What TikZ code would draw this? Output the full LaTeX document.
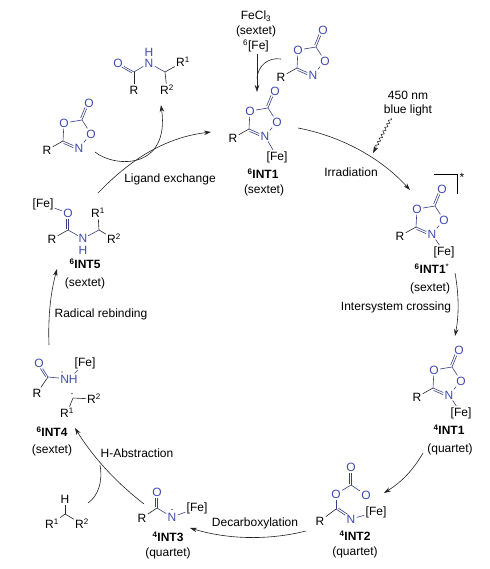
\documentclass[tikz,border=0pt]{standalone}
\usepackage{fontspec}
\setmainfont{Liberation Sans}
\usetikzlibrary{arrows.meta,decorations.pathmorphing,calc}
\definecolor{het}{HTML}{3F4AAE}
\definecolor{bondh}{HTML}{3A4088}
\definecolor{arr}{HTML}{222222}
\newcommand\dblbond[3]{%
  \draw[hbond] (#1) -- (#2);
  \draw[hbond,shorten <=1.5pt,shorten >=5.5pt] ($(#1)!#3!90:(#2)$) -- ($(#2)!#3!-90:(#1)$);
}
\tikzset{
  x=1pt,y=-1pt,
  lab/.style={font=\fontsize{12}{14}\selectfont,inner sep=0pt,text=black},
  atom/.style={font=\fontsize{12}{14}\selectfont,inner sep=1.2pt,text=black},
  hatom/.style={atom,text=het},
  vtx/.style={inner sep=0pt,minimum size=0pt},
  bond/.style={line width=0.6pt,draw=black!85},
  hbond/.style={line width=0.6pt,draw=bondh},
  cyc/.style={line width=0.6pt,draw=arr,-{Stealth[length=7pt,width=4.5pt]}},
  cycplain/.style={line width=0.6pt,draw=arr},
  rad/.style={circle,fill=black,inner sep=0pt,minimum size=1.4pt},
  oxa/.pic={
    \node[vtx] (-C1) at (0,0) {};
    \node[vtx] (-C2) at (19,-21) {};
    \node[hatom] (-O1) at (1,-18) {O};
    \node[hatom] (-O2) at (28,-7) {O};
    \node[hatom] (-N) at (16,7) {N};
    \node[hatom] (-O3) at (26,-38) {O};
    \node[atom] (-R) at (-16,9) {R};
    \draw[hbond] (-C1) -- (-O1);
    \draw[hbond] (-O1) -- (-C2);
    \draw[hbond] (-C2) -- (-O2);
    \draw[hbond] (-O2) -- (-N);
    \dblbond{-C1}{-N}{-2pt}
    \dblbond{-C2}{-O3}{2pt}
    \draw[bond] (-C1) -- (-R);
  }
}
\begin{document}
\begin{tikzpicture}
\useasboundingbox (0,0) rectangle (489,569);

% top reagent
\node[lab] (fecl) at (256,16) {FeCl\textsubscript{3}};
\node[lab] (sxt0) at (256,31) {(sextet)};
\node[lab] (fe0) at (256,46) {\textsuperscript{6}[Fe]};
\pic (t) at (297,68) {oxa};
\coordinate (a0s) at (257,54);
\coordinate (a0e) at (257,92);
\coordinate (c0s) at (281,59);
\coordinate (c0e) at (257,78);
\draw[cyc] (a0s) -- (a0e);
\draw[cycplain] (c0s) .. controls (268,57) and (258,66) .. (c0e);

% 6INT1
\pic (a) at (249,129) {oxa};
\node[atom] (afe) at (277,157) {[Fe]};
\draw[hbond] (a-N) -- (afe);
\node[lab] (al) at (263,174) {\textbf{\textsuperscript{6}INT1}};
\node[lab] (as) at (264,190) {(sextet)};

% irradiation
\coordinate (irs) at (298,128);
\coordinate (ire) at (410,190);
\draw[cyc] (irs) .. controls (340,136) and (380,157) .. (ire);
\node[lab] (irl) at (351,172) {Irradiation};
\node[lab] (nm) at (408,95) {450 nm};
\node[lab] (bl) at (408,110) {blue light};
\coordinate (ws) at (391,118);
\coordinate (we) at (373,153);
\draw[line width=0.55pt,draw=arr,-{Stealth[length=7pt,width=4.5pt]},decorate,decoration={snake,amplitude=1.3pt,segment length=4pt,pre length=0pt,post length=6pt}] (ws) -- (we);

% 6INT1*
\pic (b) at (416,227) {oxa};
\node[atom] (bfe) at (444,252) {[Fe]};
\draw[hbond] (b-N) -- (bfe);
\node[lab] (bl1) at (432,269) {\textbf{\textsuperscript{6}INT1}\textsuperscript{*}};
\node[lab] (bs) at (430,288) {(sextet)};
\coordinate (br1) at (434,174);
\coordinate (br2) at (457,174);
\coordinate (br3) at (457,194);
\draw[line width=0.6pt,draw=black] (br1) -- (br2) -- (br3);
\node[lab] (st) at (462,177) {*};
\node[lab] (isc) at (396,307) {Intersystem crossing};
\coordinate (iss) at (455,273);
\coordinate (ise) at (455,336);
\draw[cyc] (iss) .. controls (459,295) and (459,315) .. (ise);

% 4INT1
\pic (c) at (433,388) {oxa};
\node[atom] (cfe) at (461,413) {[Fe]};
\draw[hbond] (c-N) -- (cfe);
\node[lab] (cl) at (449,430) {\textbf{\textsuperscript{4}INT1}};
\node[lab] (cs) at (450,449) {(quartet)};
\coordinate (cds) at (423,453);
\coordinate (cde) at (384,493);
\draw[cyc] (cds) .. controls (412,472) and (400,483) .. (cde);

% 4INT2
\node[vtx] (d-C1) at (336,509) {};
\node[vtx] (d-C2) at (351,485) {};
\node[hatom] (d-O3) at (351,467) {O};
\node[hatom] (d-O1) at (336,494) {O};
\node[hatom] (d-O2) at (366,495) {O};
\node[hatom] (d-N) at (351,519) {N};
\node[atom] (d-R) at (320,521) {R};
\node[atom] (d-fe) at (376,512) {[Fe]};
\dblbond{d-C2}{d-O3}{1.8pt}
\draw[hbond] (d-C2) -- (d-O1);
\draw[hbond] (d-C2) -- (d-O2);
\draw[hbond] (d-C1) -- (d-O1);
\dblbond{d-C1}{d-N}{2pt}
\draw[bond] (d-C1) -- (d-R);
\draw[hbond] (d-N) -- (d-fe);
\node[lab] (dl) at (355,536) {\textbf{\textsuperscript{4}INT2}};
\node[lab] (ds) at (355,552) {(quartet)};
\node[lab] (dec) at (255,523) {Decarboxylation};
\coordinate (des) at (306,531);
\coordinate (dee) at (190,528);
\draw[cyc] (des) .. controls (270,540) and (230,540) .. (dee);

% 4INT3
\node[vtx] (e-C) at (157,508) {};
\node[hatom] (e-O) at (157,492) {O};
\node[atom] (e-R) at (142,518) {R};
\node[hatom] (e-N) at (172,517) {N};
\node[rad] (e-d) at (172,509.5) {};
\node[atom] (e-fe) at (197,508) {[Fe]};
\dblbond{e-C}{e-O}{1.8pt}
\draw[bond] (e-C) -- (e-R);
\draw[hbond] (e-C) -- (e-N);
\draw[hbond] (e-N) -- (e-fe);
\node[lab] (el) at (168,537) {\textbf{\textsuperscript{4}INT3}};
\node[lab] (es) at (168,553) {(quartet)};

% H abstraction
\coordinate (has) at (144,504);
\coordinate (hae) at (75,428);
\coordinate (hjn) at (100,465);
\draw[cyc] (has) .. controls (122,487) and (96,462) .. (hae);
\node[lab] (hal) at (137,453) {H-Abstraction};
\node[vtx] (f-C) at (65,514) {};
\node[atom] (f-H) at (65,499) {H};
\node[atom] (f-R1) at (52,524) {R\textsuperscript{1}};
\node[atom] (f-R2) at (82,524) {R\textsuperscript{2}};
\draw[bond] (f-C) -- (f-H);
\draw[bond] (f-C) -- (f-R1);
\draw[bond] (f-C) -- (f-R2);
\coordinate (fcs) at (88,503);
\draw[cycplain] (fcs) .. controls (98,496) and (103,482) .. (hjn);

% 6INT4
\node[vtx] (g-C) at (48,377) {};
\node[hatom] (g-O) at (39,363) {O};
\node[atom] (g-R) at (37,393) {R};
\node[hatom] (g-N) at (69,379) {NH};
\node[rad] (g-d) at (62,372) {};
\node[atom] (g-fe) at (85,363) {[Fe]};
\dblbond{g-C}{g-O}{1.8pt}
\draw[bond] (g-C) -- (g-R);
\draw[hbond] (g-C) -- (g-N);
\draw[hbond] (g-N) -- (g-fe);
\node[vtx] (g-CR) at (73,398) {};
\node[rad] (g-d2) at (72,393.5) {};
\node[atom] (g-R2) at (94,399) {R\textsuperscript{2}};
\node[atom] (g-R1) at (67,413) {R\textsuperscript{1}};
\draw[bond] (g-CR) -- (g-R2);
\draw[bond] (g-CR) -- (g-R1);
\node[lab] (gl) at (52,432) {\textbf{\textsuperscript{6}INT4}};
\node[lab] (gs) at (52,450) {(sextet)};

% rebinding
\coordinate (rbs) at (49,345);
\coordinate (rbe) at (57,269);
\draw[cyc] (rbs) .. controls (48,320) and (50,295) .. (rbe);
\node[lab] (rbl) at (101,314) {Radical rebinding};

% 6INT5
\node[atom] (h-fe) at (43,204) {[Fe]};
\node[hatom] (h-O) at (68,213) {O};
\node[vtx] (h-C) at (68,230) {};
\node[atom] (h-R) at (52,239) {R};
\node[hatom,inner sep=0.6pt] (h-N) at (83,238.5) {N};
\node[hatom,inner sep=0pt] (h-H) at (83,250) {H};
\node[vtx] (h-CH) at (99,230) {};
\node[atom] (h-R1) at (98,213) {R\textsuperscript{1}};
\node[atom] (h-R2) at (114,239) {R\textsuperscript{2}};
\draw[hbond] (h-fe) -- (h-O);
\dblbond{h-C}{h-O}{1.8pt}
\draw[bond] (h-C) -- (h-R);
\draw[hbond] (h-C) -- (h-N);
\draw[hbond] (h-N) -- (h-CH);
\draw[bond] (h-CH) -- (h-R1);
\draw[bond] (h-CH) -- (h-R2);
\node[lab] (hl) at (85,264) {\textbf{\textsuperscript{6}INT5}};
\node[lab] (hs) at (85,283) {(sextet)};

% ligand exchange
\coordinate (les) at (98,193);
\coordinate (lee) at (211,132);
\draw[cyc] (les) .. controls (125,165) and (160,138) .. (lee);
\node[lab] (lel) at (170,179) {Ligand exchange};

% left reagent
\pic (l) at (63,141) {oxa};
\coordinate (pas) at (95,152);
\coordinate (pae) at (161,105);
\draw[cyc] (pas) .. controls (115,168) and (170,170) .. (pae);

% product
\node[hatom] (p-O) at (118,63) {O};
\node[vtx] (p-C) at (134,72) {};
\node[hatom] (p-N) at (149,63) {N};
\node[hatom] (p-H) at (149,52) {H};
\node[vtx] (p-CH) at (165,72) {};
\node[atom] (p-R1) at (183,62) {R\textsuperscript{1}};
\node[atom] (p-R) at (134,90) {R};
\node[atom] (p-R2) at (167,90) {R\textsuperscript{2}};
\dblbond{p-C}{p-O}{1.8pt}
\draw[hbond] (p-C) -- (p-N);
\draw[hbond] (p-N) -- (p-CH);
\draw[bond] (p-C) -- (p-R);
\draw[bond] (p-CH) -- (p-R1);
\draw[bond] (p-CH) -- (p-R2);
\end{tikzpicture}
\end{document}
